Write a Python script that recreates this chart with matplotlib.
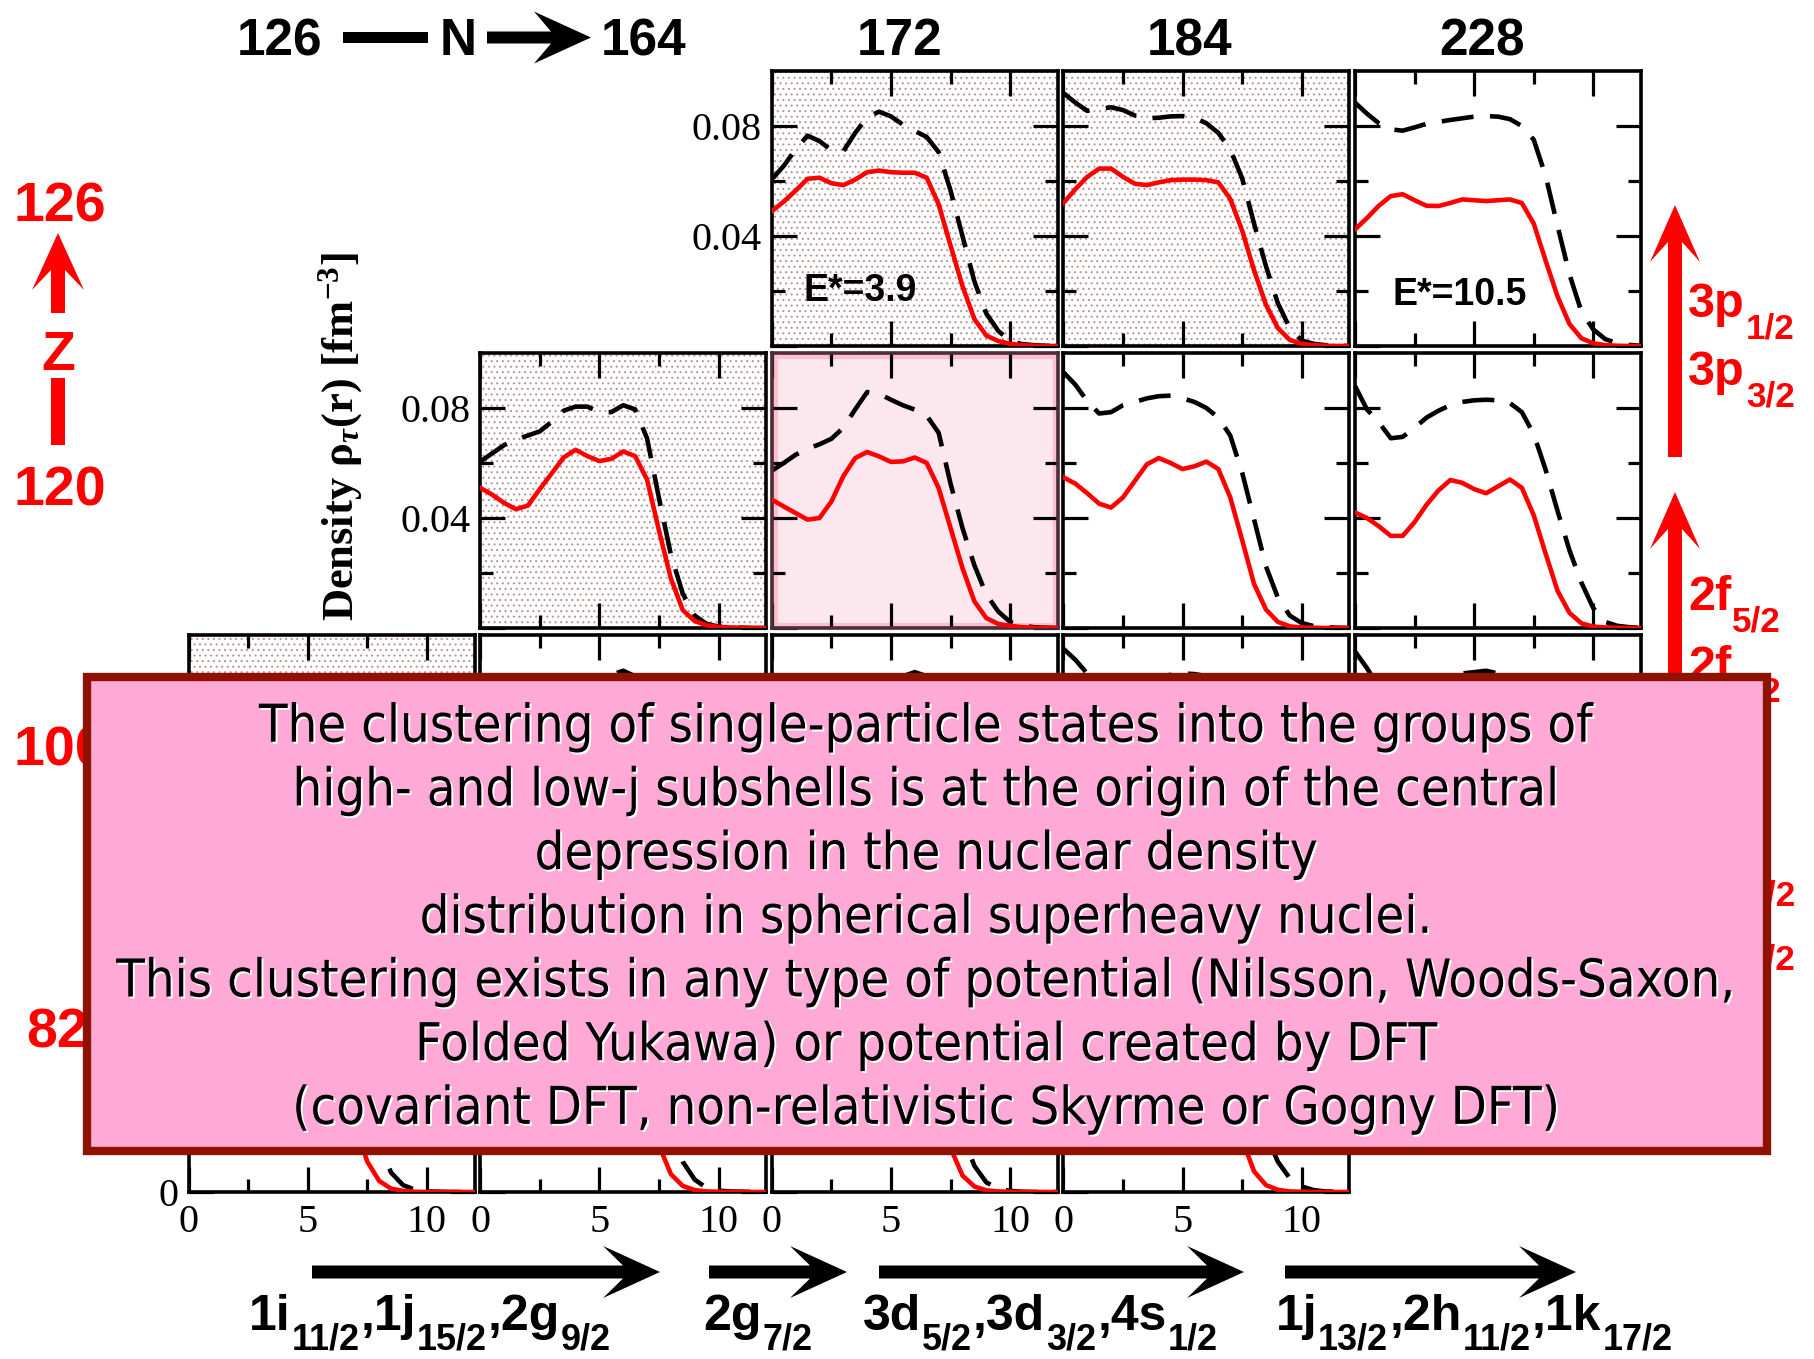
import numpy as np
import matplotlib
matplotlib.use("Agg")
import matplotlib.pyplot as plt
from matplotlib import font_manager
from matplotlib.patches import Rectangle, Polygon
from matplotlib.ticker import FixedLocator
import matplotlib.patheffects as pe

# ------------------------------------------------------------------ data
radius = [0.0, 0.5, 1.0, 1.5, 2.0, 2.5, 3.0, 3.5, 4.0, 4.5, 5.0, 5.5, 6.0,
          6.5, 7.0, 7.5, 8.0, 8.5, 9.0, 9.5, 10.0, 10.5, 11.0, 11.5, 12.0]

proton_r1c3 = [0.049, 0.0525, 0.0565, 0.0608, 0.0612, 0.0592, 0.0585, 0.0605, 0.0632, 0.0638, 0.0632, 0.063, 0.063,
               0.0612, 0.0515, 0.0365, 0.0218, 0.0098, 0.0038, 0.0018, 0.0008, 0.0003, 0.0001, 0.0, 0.0]
neutron_r1c3 = [0.0606, 0.0655, 0.0715, 0.0765, 0.0745, 0.0712, 0.0708, 0.0775, 0.0832, 0.0852, 0.0835, 0.0805, 0.0782,
                0.076, 0.0705, 0.0565, 0.040, 0.0235, 0.0118, 0.0055, 0.0018, 0.0007, 0.0003, 0.0001, 0.0]
proton_r1c4 = [0.052, 0.057, 0.0615, 0.0645, 0.0645, 0.0615, 0.059, 0.0585, 0.0595, 0.0603, 0.0605, 0.0605, 0.0603,
               0.0595, 0.0535, 0.042, 0.0275, 0.015, 0.0065, 0.0022, 0.0008, 0.0003, 0.0001, 0.0, 0.0]
neutron_r1c4 = [0.092, 0.0885, 0.0855, 0.0862, 0.0868, 0.0858, 0.0838, 0.0828, 0.083, 0.0835, 0.0836, 0.083, 0.081,
                0.0775, 0.0715, 0.061, 0.0445, 0.029, 0.0155, 0.0065, 0.002, 0.0008, 0.0003, 0.0001, 0.0]
proton_r1c5 = [0.0424, 0.0465, 0.051, 0.0545, 0.0552, 0.053, 0.051, 0.0509, 0.052, 0.0533, 0.053, 0.0527, 0.053,
               0.0533, 0.052, 0.0445, 0.031, 0.018, 0.008, 0.0028, 0.001, 0.0003, 0.0001, 0.0, 0.0]
neutron_r1c5 = [0.0885, 0.0845, 0.081, 0.0788, 0.0783, 0.0795, 0.0808, 0.0815, 0.0822, 0.0828, 0.0834, 0.0836, 0.0834,
                0.0825, 0.080, 0.075, 0.0618, 0.0436, 0.026, 0.0125, 0.006, 0.0025, 0.001, 0.0004, 0.0001]

proton_r2c2 = [0.051, 0.0485, 0.0455, 0.0432, 0.0445, 0.0505, 0.0562, 0.062, 0.0648, 0.0625, 0.0607, 0.0615, 0.0642,
               0.0625, 0.054, 0.0355, 0.018, 0.0065, 0.0025, 0.001, 0.0004, 0.0002, 0.0001, 0.0, 0.0]
neutron_r2c2 = [0.0605, 0.0635, 0.0665, 0.0685, 0.070, 0.0715, 0.075, 0.079, 0.0805, 0.0805, 0.0785, 0.0785, 0.081,
                0.0795, 0.069, 0.0473, 0.0267, 0.0125, 0.0045, 0.0015, 0.0005, 0.0002, 0.0001, 0.0, 0.0]
proton_r2c3 = [0.0467, 0.0442, 0.0418, 0.0394, 0.040, 0.046, 0.0552, 0.0618, 0.064, 0.0624, 0.0604, 0.0606, 0.062,
               0.060, 0.0509, 0.0364, 0.0218, 0.0097, 0.0036, 0.0015, 0.0008, 0.0003, 0.0001, 0.0, 0.0]
neutron_r2c3 = [0.0572, 0.060, 0.063, 0.0652, 0.0668, 0.0688, 0.0728, 0.0795, 0.0858, 0.0852, 0.083, 0.081, 0.0794,
                0.0772, 0.071, 0.0525, 0.0364, 0.0228, 0.0122, 0.006, 0.0022, 0.0008, 0.0003, 0.0001, 0.0]
proton_r2c4 = [0.0548, 0.0525, 0.049, 0.0452, 0.0438, 0.0475, 0.0535, 0.0595, 0.0618, 0.060, 0.0578, 0.0588, 0.0605,
               0.0578, 0.0475, 0.032, 0.016, 0.0067, 0.0022, 0.0006, 0.0002, 0.0001, 0.0, 0.0, 0.0]
neutron_r2c4 = [0.093, 0.0885, 0.0825, 0.078, 0.0785, 0.081, 0.0822, 0.0835, 0.0843, 0.0845, 0.0835, 0.0822, 0.080,
                0.0765, 0.070, 0.0565, 0.0395, 0.0224, 0.011, 0.0045, 0.0018, 0.0007, 0.0003, 0.0001, 0.0]
proton_r2c5 = [0.042, 0.040, 0.037, 0.0335, 0.0335, 0.0385, 0.0448, 0.050, 0.0538, 0.0528, 0.0505, 0.049, 0.0515,
               0.054, 0.051, 0.041, 0.027, 0.0135, 0.0055, 0.0017, 0.0005, 0.0002, 0.0001, 0.0, 0.0]
neutron_r2c5 = [0.088, 0.0795, 0.0748, 0.069, 0.0695, 0.0728, 0.0765, 0.079, 0.081, 0.0822, 0.0828, 0.083, 0.0828,
                0.0818, 0.0785, 0.0705, 0.0575, 0.0425, 0.0282, 0.0165, 0.0072, 0.0022, 0.0008, 0.0003, 0.0001]

proton_r3c1 = [0.060, 0.058, 0.055, 0.053, 0.055, 0.060, 0.064, 0.066, 0.066, 0.065, 0.065, 0.066, 0.066,
               0.064, 0.055, 0.038, 0.021, 0.009, 0.0035, 0.0012, 0.0004, 0.0001, 0.0, 0.0, 0.0]
neutron_r3c1 = [0.072, 0.071, 0.070, 0.070, 0.072, 0.075, 0.078, 0.080, 0.081, 0.081, 0.080, 0.080, 0.081,
                0.079, 0.069, 0.049, 0.028, 0.013, 0.005, 0.0017, 0.0006, 0.0002, 0.0001, 0.0, 0.0]
proton_r3c2 = [0.050, 0.048, 0.045, 0.044, 0.047, 0.053, 0.060, 0.065, 0.067, 0.065, 0.063, 0.064, 0.066,
               0.064, 0.055, 0.037, 0.020, 0.0085, 0.003, 0.001, 0.0003, 0.0001, 0.0, 0.0, 0.0]
neutron_r3c2 = [0.070, 0.071, 0.073, 0.075, 0.077, 0.079, 0.081, 0.083, 0.084, 0.0845, 0.084, 0.0855, 0.087,
                0.085, 0.075, 0.054, 0.031, 0.0145, 0.0055, 0.0018, 0.0006, 0.0002, 0.0001, 0.0, 0.0]
proton_r3c3 = [0.048, 0.045, 0.042, 0.040, 0.042, 0.048, 0.056, 0.062, 0.064, 0.062, 0.060, 0.061, 0.062,
               0.060, 0.051, 0.036, 0.021, 0.0095, 0.0035, 0.0013, 0.0005, 0.0002, 0.0001, 0.0, 0.0]
neutron_r3c3 = [0.060, 0.063, 0.067, 0.070, 0.072, 0.075, 0.079, 0.083, 0.085, 0.085, 0.084, 0.085, 0.0865,
                0.085, 0.076, 0.058, 0.037, 0.020, 0.009, 0.0035, 0.0012, 0.0004, 0.0001, 0.0, 0.0]
proton_r3c4 = [0.056, 0.053, 0.049, 0.045, 0.044, 0.048, 0.054, 0.060, 0.062, 0.060, 0.058, 0.059, 0.060,
               0.057, 0.047, 0.032, 0.017, 0.0075, 0.0027, 0.0008, 0.0003, 0.0001, 0.0, 0.0, 0.0]
neutron_r3c4 = [0.095, 0.091, 0.086, 0.081, 0.079, 0.080, 0.082, 0.084, 0.085, 0.0855, 0.086, 0.0858, 0.085,
                0.082, 0.075, 0.060, 0.042, 0.025, 0.012, 0.005, 0.0018, 0.0007, 0.0003, 0.0001, 0.0]
proton_r3c5 = [0.043, 0.041, 0.038, 0.035, 0.035, 0.040, 0.046, 0.051, 0.054, 0.053, 0.051, 0.050, 0.052,
               0.054, 0.051, 0.042, 0.028, 0.014, 0.0057, 0.0018, 0.0005, 0.0002, 0.0001, 0.0, 0.0]
neutron_r3c5 = [0.094, 0.088, 0.081, 0.075, 0.074, 0.077, 0.080, 0.083, 0.085, 0.086, 0.0865, 0.087, 0.086,
                0.084, 0.080, 0.072, 0.059, 0.044, 0.029, 0.017, 0.0075, 0.0025, 0.0009, 0.0003, 0.0001]

proton_r4c1 = [0.055, 0.054, 0.053, 0.054, 0.057, 0.060, 0.062, 0.063, 0.063, 0.063, 0.063, 0.062, 0.055,
               0.041, 0.024, 0.011, 0.004, 0.0012, 0.0004, 0.0001, 0.0, 0.0, 0.0, 0.0, 0.0]
neutron_r4c1 = [0.070, 0.070, 0.070, 0.071, 0.073, 0.075, 0.077, 0.078, 0.078, 0.078, 0.078, 0.077, 0.074,
                0.066, 0.050, 0.032, 0.017, 0.007, 0.0025, 0.0008, 0.0002, 0.0001, 0.0, 0.0, 0.0]
proton_r4c2 = [0.058, 0.057, 0.055, 0.055, 0.057, 0.060, 0.062, 0.063, 0.063, 0.063, 0.063, 0.062, 0.060,
               0.052, 0.035, 0.017, 0.0065, 0.0022, 0.0007, 0.0002, 0.0001, 0.0, 0.0, 0.0, 0.0]
neutron_r4c2 = [0.072, 0.072, 0.073, 0.074, 0.076, 0.078, 0.079, 0.080, 0.080, 0.080, 0.080, 0.079, 0.077,
                0.071, 0.058, 0.040, 0.023, 0.011, 0.0045, 0.0015, 0.0005, 0.0002, 0.0001, 0.0, 0.0]
proton_r4c3 = [0.052, 0.051, 0.050, 0.051, 0.054, 0.058, 0.061, 0.062, 0.062, 0.062, 0.062, 0.061, 0.059,
               0.051, 0.034, 0.016, 0.006, 0.002, 0.0006, 0.0002, 0.0001, 0.0, 0.0, 0.0, 0.0]
neutron_r4c3 = [0.068, 0.069, 0.071, 0.073, 0.075, 0.077, 0.079, 0.080, 0.080, 0.080, 0.080, 0.079, 0.077,
                0.070, 0.056, 0.038, 0.021, 0.0095, 0.0035, 0.0012, 0.0004, 0.0001, 0.0, 0.0, 0.0]
proton_r4c4 = [0.056, 0.054, 0.052, 0.052, 0.055, 0.058, 0.060, 0.061, 0.061, 0.061, 0.061, 0.060, 0.059,
               0.053, 0.037, 0.019, 0.0075, 0.0025, 0.0008, 0.0002, 0.0001, 0.0, 0.0, 0.0, 0.0]
neutron_r4c4 = [0.085, 0.082, 0.079, 0.078, 0.079, 0.080, 0.081, 0.082, 0.082, 0.082, 0.082, 0.081, 0.079,
                0.075, 0.066, 0.051, 0.035, 0.021, 0.011, 0.005, 0.002, 0.0007, 0.0002, 0.0001, 0.0]

z_labels = ["126", "120", "100", "82"]
n_top_labels = ["172", "184", "228"]
x_tick_values = [0, 5, 10]
x_tick_labels = ["0", "5", "10"]
y_tick_values = [0, 0.04, 0.08]
y_tick_labels = ["0", "0.04", "0.08"]
excitation_labels = ["E*=3.9", "E*=10.5"]
# (text, is_subscript) pieces
bottom_groups = [
    [("1i", 0), ("11/2", 1), (",1j", 0), ("15/2", 1), (",2g", 0), ("9/2", 1)],
    [("2g", 0), ("7/2", 1)],
    [("3d", 0), ("5/2", 1), (",3d", 0), ("3/2", 1), (",4s", 0), ("1/2", 1)],
    [("1j", 0), ("13/2", 1), (",2h", 0), ("11/2", 1), (",1k", 0), ("17/2", 1)],
]
right_groups = [
    [("3p", 0), ("1/2", 1)], [("3p", 0), ("3/2", 1)],
    [("2f", 0), ("5/2", 1)], [("2f", 0), ("7/2", 1)],
    [("1i", 0), ("13/2", 1)], [("1h", 0), ("9/2", 1)],
]
box_lines = [
    "The clustering of single-particle states into the groups of",
    "high- and low-j subshells is at the origin of the central",
    "depression in the nuclear density",
    "distribution in spherical superheavy nuclei.",
    "This clustering exists in any type of potential (Nilsson, Woods-Saxon,",
    "Folded Yukawa) or potential created by DFT",
    "(covariant DFT, non-relativistic Skyrme or Gogny DFT)",
]

# (row, col, background, proton, neutron, excitation label index)
panels = [
    (0, 2, "dots", proton_r1c3, neutron_r1c3, 0),
    (0, 3, "dots", proton_r1c4, neutron_r1c4, None),
    (0, 4, "white", proton_r1c5, neutron_r1c5, 1),
    (1, 1, "dots", proton_r2c2, neutron_r2c2, None),
    (1, 2, "pink", proton_r2c3, neutron_r2c3, None),
    (1, 3, "white", proton_r2c4, neutron_r2c4, None),
    (1, 4, "white", proton_r2c5, neutron_r2c5, None),
    (2, 0, "dots", proton_r3c1, neutron_r3c1, None),
    (2, 1, "white", proton_r3c2, neutron_r3c2, None),
    (2, 2, "white", proton_r3c3, neutron_r3c3, None),
    (2, 3, "white", proton_r3c4, neutron_r3c4, None),
    (2, 4, "white", proton_r3c5, neutron_r3c5, None),
    (3, 0, "white", proton_r4c1, neutron_r4c1, None),
    (3, 1, "white", proton_r4c2, neutron_r4c2, None),
    (3, 2, "white", proton_r4c3, neutron_r4c3, None),
    (3, 3, "white", proton_r4c4, neutron_r4c4, None),
]
# y tick labels that are visible (the others lie under the text box)
visible_ylabels = {0: ["", "0.04", "0.08"], 1: ["", "0.04", "0.08"], 2: ["", "", ""], 3: ["0", "", ""]}
first_col_of_row = {0: 2, 1: 1, 2: 0, 3: 0}

# ------------------------------------------------------------------ style
W, H, DPI = 1814, 1359, 100
plt.rcParams.update({
    "font.family": "Liberation Serif",
    "mathtext.fontset": "custom",
    "mathtext.rm": "Liberation Serif:bold",
    "mathtext.bf": "Liberation Serif:bold",
    "mathtext.it": "Liberation Serif:bold:italic",
    "hatch.color": "#b89494",
    "hatch.linewidth": 0.75,
    "axes.linewidth": 2.6,
})

fig = plt.figure(figsize=(W / DPI, H / DPI), dpi=DPI)
fig.patch.set_facecolor("white")
rend = fig.canvas.get_renderer()


def fxy(x, y):
    return x / W, 1.0 - y / H


col_x0 = [188.6 + 291.6 * i for i in range(5)]
row_y0 = [71.0 + 282.0 * j for j in range(4)]
PW, PH = 286.0, 275.0

for row, col, bg, prot, neut, elab in panels:
    x0, y0 = col_x0[col], row_y0[row]
    ax = fig.add_axes([x0 / W, 1 - (y0 + PH) / H, PW / W, PH / H])
    ax.set_facecolor("white")
    if bg == "dots":
        ax.add_patch(Rectangle((0, 0), 1, 1, transform=ax.transAxes, facecolor="white",
                               edgecolor="#b89494", hatch="...", linewidth=0, zorder=0))
    elif bg == "pink":
        ax.set_facecolor("#fde7ee")
        ax.add_patch(Rectangle((0, 0), 1, 1, transform=ax.transAxes, fill=False,
                               edgecolor="#fbbfcf", linewidth=8, zorder=0.5))
        for s in ax.spines.values():
            s.set_edgecolor("#4d2c38")
    ax.plot(radius, neut, color="black", lw=3.3, dashes=(7.0, 3.6), dash_capstyle="butt", zorder=2)
    ax.plot(radius, prot, color="#ff0000", lw=3.3, zorder=3)
    ax.set_xlim(0, 12)
    ax.set_ylim(0, 0.1)
    ax.xaxis.set_major_locator(FixedLocator(x_tick_values))
    ax.xaxis.set_minor_locator(FixedLocator([2.5, 7.5]))
    ax.yaxis.set_major_locator(FixedLocator(y_tick_values))
    ax.yaxis.set_minor_locator(FixedLocator([0.02, 0.06]))
    ax.set_xticklabels(x_tick_labels)
    ax.set_yticklabels(visible_ylabels[row])
    ax.tick_params(which="both", direction="in", top=True, right=True, width=2.3, color="black")
    ax.tick_params(which="major", length=18)
    ax.tick_params(which="minor", length=9.5)
    ax.tick_params(axis="x", labelsize=29, pad=9, labelbottom=(row == 3))
    ax.tick_params(axis="y", labelsize=29, pad=7, labelleft=(col == first_col_of_row[row]))
    if elab is not None:
        ex = 0.11 if elab == 0 else 0.13
        ey = 0.20 if elab == 0 else 0.185
        ax.text(ex, ey, excitation_labels[elab], transform=ax.transAxes, ha="left", va="center",
                fontsize=27, fontweight="bold", family="Liberation Sans", zorder=4)


# ------------------------------------------------------------------ decorations
def block_arrow(tail, tip, shaft, head_w, head_l, notch, color, z=4):
    p0 = np.array(tail, float)
    p1 = np.array(tip, float)
    d = p1 - p0
    L = np.hypot(*d)
    u = d / L
    n = np.array([-u[1], u[0]])
    local = [(0, shaft / 2), (L - head_l + notch, shaft / 2), (L - head_l, head_w / 2), (L, 0),
             (L - head_l, -head_w / 2), (L - head_l + notch, -shaft / 2), (0, -shaft / 2)]
    pts = [fxy(*(p0 + a * u + b * n)) for a, b in local]
    fig.add_artist(Polygon(pts, closed=True, transform=fig.transFigure,
                           facecolor=color, edgecolor="none", zorder=z))


def bar(x0, y0, x1, y1, color, z=4):
    pts = [fxy(x0, y0), fxy(x1, y0), fxy(x1, y1), fxy(x0, y1)]
    fig.add_artist(Polygon(pts, closed=True, transform=fig.transFigure,
                           facecolor=color, edgecolor="none", zorder=z))


def chain_label(x, yb, pieces, size, color, ha="left", sub_ratio=0.72, drop=0.42, gap=1.0, z=3):
    objs = []
    for s, is_sub in pieces:
        fs = size * sub_ratio if is_sub else size
        t = fig.text(0, 0, s, fontsize=fs, family="Liberation Sans", fontweight="bold",
                     color=color, ha="left", va="baseline", zorder=z)
        w = t.get_window_extent(rend).width
        objs.append((t, w, is_sub))
    total = sum(w for _, w, _ in objs) + gap * (len(objs) - 1)
    if ha == "center":
        cx = x - total / 2
    elif ha == "right":
        cx = x - total
    else:
        cx = x
    for t, w, is_sub in objs:
        yy = yb + (drop * size * DPI / 72.0 if is_sub else 0.0)
        t.set_position(fxy(cx, yy))
        cx += w + gap


RED = "#ff0000"

# top: 126 --N--> 164 and column labels
top_font = dict(fontsize=37, fontweight="bold", family="Liberation Sans", ha="center", va="baseline")
fig.text(*fxy(280, 55), "126", **top_font)
bar(343, 32, 428, 43, "black")
fig.text(*fxy(458, 55), "N", **top_font)
block_arrow((487, 37.5), (591, 37.5), 12, 52, 57, 17, "black")
fig.text(*fxy(644, 55), "164", **top_font)
for xc, lab in zip([900, 1190, 1482], n_top_labels):
    fig.text(*fxy(xc, 55), lab, **top_font)

# left: Z labels with arrow
red_font = dict(fontsize=40, fontweight="bold", family="Liberation Sans", color=RED,
                ha="center", va="baseline")
for (xc, yb), lab in zip([(60, 222), (60, 505), (60, 765), (57, 1048)], z_labels):
    fig.text(*fxy(xc, yb), lab, **red_font)
block_arrow((58, 313), (58, 233), 14, 52, 57, 20, RED)
fig.text(*fxy(58, 370), "Z", **red_font)
bar(51, 378, 65, 445, RED)

# right: subshell arrows and labels
block_arrow((1675, 457), (1675, 205), 14, 50, 57, 20, RED)
block_arrow((1675, 900), (1675, 492), 14, 50, 57, 20, RED)
for (xx, yb, ha), grp in zip([(1688, 317, "left"), (1688, 385, "left"), (1688, 610, "left"),
                              (1688, 680, "left"), (1796, 884, "right"), (1796, 948, "right")],
                             right_groups):
    chain_label(xx, yb, grp, 35, RED, ha=ha, drop=0.45)

# bottom: arrows and subshell groups
for tail, tip in [(312, 660), (709, 847), (879, 1244), (1285, 1576)]:
    block_arrow((tail, 1272), (tip, 1272), 13, 52, 57, 20, "black")
for xc, grp in zip([430, 758, 1040, 1474], bottom_groups):
    chain_label(xc, 1330, grp, 36, "black", ha="center", drop=0.40)

# y axis label
fig.text(*fxy(341, 437), "Density ρ$_{\\tau}$(r) [fm$^{-3}$]", rotation=90, ha="center", va="center",
         fontsize=32, fontweight="bold", family="Liberation Serif")

# ------------------------------------------------------------------ pink text box
bx0, by0, bx1, by1 = 87, 677, 1767, 1151
fig.add_artist(Rectangle(fxy(bx0, by1), (bx1 - bx0) / W, (by1 - by0) / H, transform=fig.transFigure,
                         facecolor="#ffaad6", edgecolor="#8f1200", linewidth=6, zorder=20))

names = {f.name for f in font_manager.fontManager.ttflist}
cond = [f for f in font_manager.fontManager.ttflist
        if f.name == "DejaVu Sans" and "condensed" in str(f.stretch)]
if cond:
    box_font = dict(family="DejaVu Sans", stretch="condensed")
elif "Liberation Sans Narrow" in names:
    box_font = dict(family="Liberation Sans Narrow")
else:
    box_font = dict(family="DejaVu Sans")

box_texts = []
for i, line in enumerate(box_lines):
    t = fig.text(*fxy(927, 741.7 + 63.7 * i), line, ha="center", va="baseline", fontsize=36,
                 color="black", zorder=21,
                 path_effects=[pe.withSimplePatchShadow(offset=(1.4, -1.4), shadow_rgbFace="white", alpha=1.0)],
                 **box_font)
    box_texts.append(t)

wcur = box_texts[4].get_window_extent(rend).width
scale = 1620.0 / wcur
for t in box_texts:
    t.set_fontsize(t.get_fontsize() * scale)

fig.savefig("out.png", dpi=DPI, facecolor="white")
